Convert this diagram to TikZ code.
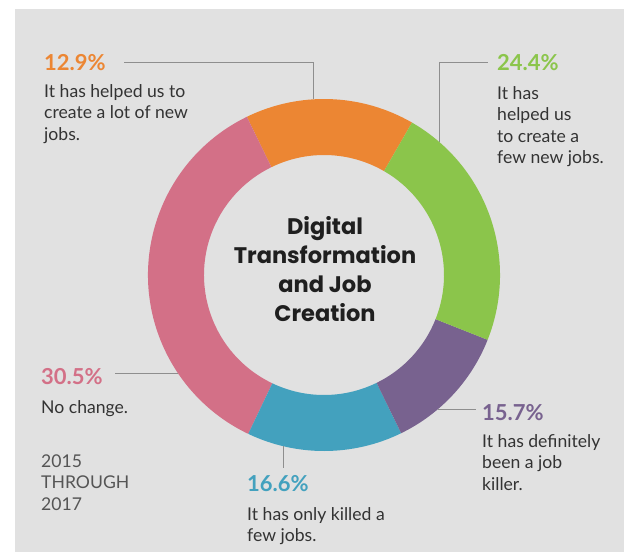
\documentclass[tikz,border=0pt]{standalone}
\usepackage{fontspec}
\setmainfont{Lato}
\newfontfamily\titlefont{Poppins}
\definecolor{bggray}{HTML}{E1E1E1}
\definecolor{leadgray}{HTML}{8E8E8E}
\definecolor{txtgray}{HTML}{333333}
\definecolor{yeargray}{HTML}{555555}
\definecolor{segorange}{HTML}{EC8633}
\definecolor{seggreen}{HTML}{8BC54B}
\definecolor{segpurple}{HTML}{78628F}
\definecolor{segteal}{HTML}{43A1BE}
\definecolor{segpink}{HTML}{D37087}
\begin{document}
\begin{tikzpicture}[x=1pt,y=1pt,
  pct/.style={font=\fontsize{22}{24}\selectfont\bfseries,anchor=base west,inner sep=0pt},
  body/.style={font=\fontsize{17.6}{21.5}\selectfont,text=txtgray,align=left,anchor=north west,inner sep=0pt},
  leader/.style={draw=leadgray,line width=0.8pt}]
\useasboundingbox (0,0) rectangle (628,-552);
\fill[bggray] (15,-9) rectangle (624,-552);

% percentages and their texts
\node[pct,text=segorange] (p129) at (44,-70) {12.9\%};
\node[body] (t129) at (44,-84) {It has helped us to\\create a lot of new\\jobs.};
\node[pct,text=seggreen] (p244) at (497,-70) {24.4\%};
\node[body] (t244) at (497,-86) {It has\\helped us\\to create a\\few new jobs.};
\node[pct,text=segpurple] (p157) at (482,-420) {15.7\%};
\node[body] (t157) at (482,-434) {It has definitely\\been a job\\killer.};
\node[pct,text=segteal] (p166) at (247,-491) {16.6\%};
\node[body] (t166) at (247,-507) {It has only killed a\\few jobs.};
\node[pct,text=segpink] (p305) at (41,-384) {30.5\%};
\node[body] (t305) at (41,-400) {No change.};
\node[body,text=yeargray] (years) at (41,-454.5) {2015\\THROUGH\\2017};

% ring
\begin{scope}[shift={(324,-275)}]
\coordinate (r129) at (93.6:176);
\coordinate (r244) at (49.2:176);
\coordinate (r157) at (-49.6:176);
\coordinate (r166) at (256.5:176);
\coordinate (r305) at (213.9:176);
\fill[segorange] (60:120) -- (60:176) arc (60:116:176) -- (116:120) arc (116:60:120) -- cycle;
\fill[segpink] (116:120) -- (116:176) arc (116:244.5:176) -- (244.5:120) arc (244.5:116:120) -- cycle;
\fill[segteal] (244.5:120) -- (244.5:176) arc (244.5:296:176) -- (296:120) arc (296:244.5:120) -- cycle;
\fill[segpurple] (296:120) -- (296:176) arc (296:338.4:176) -- (338.4:120) arc (338.4:296:120) -- cycle;
\fill[seggreen] (338.4:120) -- (338.4:176) arc (338.4:420:176) -- (420:120) arc (420:338.4:120) -- cycle;
\node[font=\titlefont\fontsize{22.5}{29}\selectfont\bfseries,text=black!88,align=center] (title) at (1,5.5) {Digital\\Transformation\\and Job\\Creation};
\end{scope}

% leaders
\draw[leader,shorten >=18pt] (r129) |- (p129.east);
\draw[leader,shorten >=9pt] (r244) |- (p244.west);
\draw[leader,shorten >=6pt] (r157) -- (r157 -| p157.west);
\draw[leader,shorten >=7pt] (r166) -- (r166 |- p166.north);
\draw[leader,shorten >=12pt] (r305) -- (r305 -| p305.east);
\end{tikzpicture}
\end{document}
